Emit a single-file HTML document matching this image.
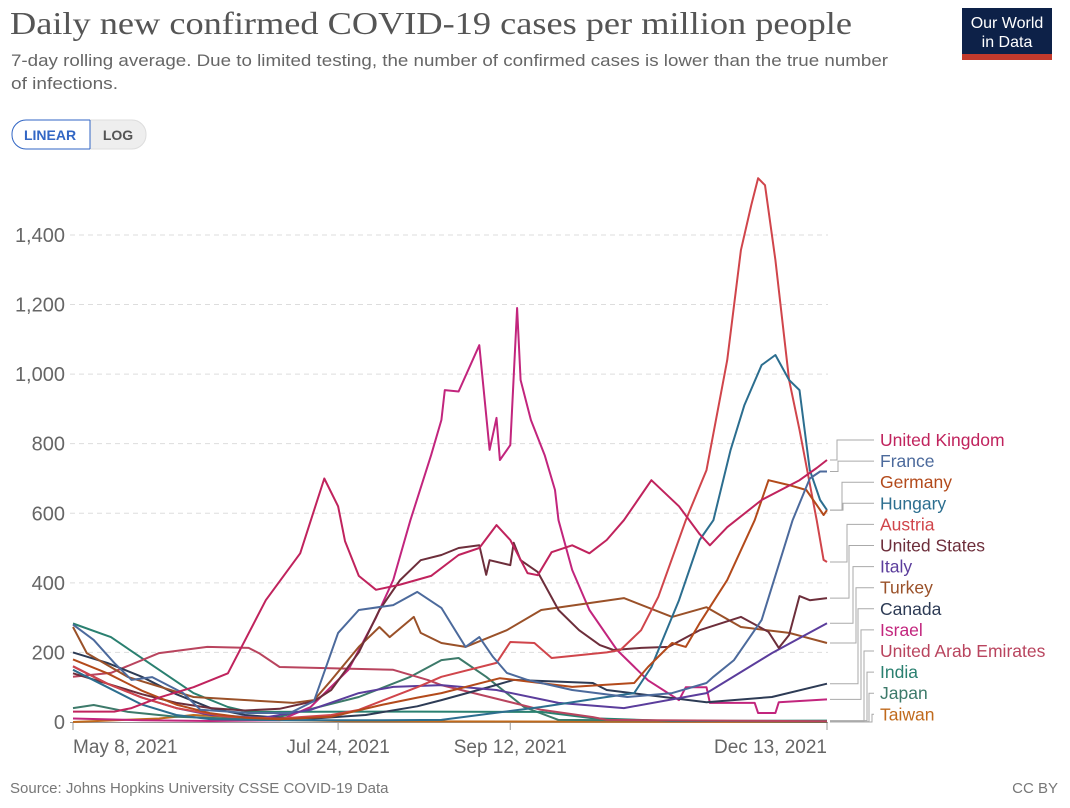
<!DOCTYPE html>
<html><head><meta charset="utf-8">
<style>
body{margin:0;background:#fff;width:1070px;height:803px;overflow:hidden;font-family:"Liberation Sans",sans-serif;}
</style></head>
<body>
<svg id="chart" width="1070" height="803" xmlns="http://www.w3.org/2000/svg" font-family="Liberation Sans, sans-serif">
<text x="10" y="34" font-family="Liberation Serif, serif" font-size="32" fill="#555" textLength="842" lengthAdjust="spacingAndGlyphs">Daily new confirmed COVID-19 cases per million people</text>
<text x="11" y="66" font-size="17" fill="#666" textLength="877" lengthAdjust="spacingAndGlyphs">7-day rolling average. Due to limited testing, the number of confirmed cases is lower than the true number</text>
<text x="11" y="89" font-size="17" fill="#666" textLength="107" lengthAdjust="spacingAndGlyphs">of infections.</text>
<g>
<rect x="962" y="8" width="90" height="46" fill="#0d2148"/>
<rect x="962" y="54" width="90" height="6" fill="#c33a2c"/>
<text x="1007" y="28" font-size="16" fill="#fff" text-anchor="middle">Our World</text>
<text x="1007" y="47" font-size="16" fill="#fff" text-anchor="middle">in Data</text>
</g>
<g>
<rect x="70" y="120" width="76" height="29" rx="14" fill="#eee" stroke="#ddd"/>
<rect x="12" y="120" width="78" height="29" rx="14" fill="#fff" stroke="#3266c4"/>
<rect x="70" y="120.5" width="20" height="28" fill="#fff"/>
<line x1="70" y1="120" x2="90" y2="120" stroke="#3266c4"/>
<line x1="70" y1="149" x2="90" y2="149" stroke="#3266c4"/>
<line x1="90" y1="120" x2="90" y2="149" stroke="#3266c4"/>
<text x="50" y="140" font-size="14" font-weight="bold" fill="#3266c4" text-anchor="middle">LINEAR</text>
<text x="118" y="140" font-size="14" font-weight="bold" fill="#555" text-anchor="middle">LOG</text>
</g>
<g id="grid"></g>
<g id="series"></g>
<g id="legend"></g>
<text x="10" y="793" font-size="15" fill="#777">Source: Johns Hopkins University CSSE COVID-19 Data</text>
<text x="1058" y="793" font-size="15" fill="#777" text-anchor="end">CC BY</text>
</svg>
<script>
const yTicks=[0,200,400,600,800,1000,1200,1400];
const yTickLabels=["0","200","400","600","800","1,000","1,200","1,400"];
const xTickDays=[0,77,127,219];
const xTickLabels=["May 8, 2021","Jul 24, 2021","Sep 12, 2021","Dec 13, 2021"];
const countries=["United Kingdom","France","Germany","Hungary","Austria","United States","Italy","Turkey","Canada","Israel","United Arab Emirates","India","Japan","Taiwan"];
const colors=["#c0235d","#4c6a9c","#b34a1b","#2c6e8f","#d0454b","#6d2e3b","#5b3d9c","#9a5129","#2d3b55","#c2257d","#b9445e","#2a8070","#3d7a6a","#c06a1c"];
const ukDays=[0,12,17,25,35,45,56,66,73,77,79,83,88,95,104,112,118,123,127,132,135,139,145,150,155,160,168,176,182,185,190,200,211,216,219];
const ukVals=[30,30,40,70,100,140,350,485,700,620,520,420,380,395,420,480,500,566,523,428,422,488,508,485,523,580,695,620,540,508,560,638,695,730,753];
const frDays=[0,6,12,17,23,32,37,51,63,70,75,77,83,93,100,107,110,114,118,122,126,132,145,161,174,184,186,192,200,209,214,217,219];
const frVals=[280,236,170,121,129,83,35,26,26,60,200,256,322,336,374,328,280,216,244,187,141,121,92,72,83,112,130,178,293,580,700,720,720];
const deDays=[0,10,20,30,40,50,60,75,90,100,107,124,145,163,167,174,178,182,190,198,202,208,213,216,218,219];
const deVals=[180,140,90,50,25,12,8,15,50,70,83,126,101,112,158,227,216,284,408,580,695,681,667,624,595,609];
const huDays=[0,10,20,30,40,60,90,107,136,155,163,168,176,182,186,191,195,200,204,208,211,214,217,219];
const huVals=[150,100,50,20,8,5,5,6,43,72,83,158,350,523,580,782,911,1026,1055,983,954,724,638,609];
const atDays=[0,10,20,30,45,60,75,83,100,107,123,127,134,139,155,159,165,170,178,184,190,194,197,199,201,204,208,211,216,218,219];
const atVals=[160,110,70,40,15,10,20,35,100,130,170,230,227,184,200,207,264,360,580,724,1040,1356,1486,1563,1543,1328,983,840,580,466,460];
const usDays=[0,10,20,30,40,50,60,70,75,83,89,95,101,107,112,118,120,121,127,128,130,135,141,147,153,157,165,173,182,194,202,205,208,211,214,219];
const usVals=[140,110,80,55,40,33,38,60,92,200,322,408,465,480,500,508,423,465,451,515,465,431,322,264,221,207,213,216,264,302,259,213,250,362,350,356];
const itDays=[0,10,20,30,40,55,69,83,93,107,123,141,160,184,203,219];
const itVals=[160,110,70,40,20,12,35,83,101,106,92,55,40,83,198,284];
const trDays=[0,4,16,35,64,70,75,83,89,92,99,101,107,114,126,136,160,174,184,194,208,219];
const trVals=[273,198,129,72,55,63,120,216,273,244,302,256,227,216,264,322,356,302,330,273,256,227];
const caDays=[0,10,20,30,40,50,60,70,85,100,107,121,128,151,155,184,203,219];
const caVals=[200,170,130,80,40,20,12,10,20,45,63,101,121,112,92,57,72,110];
const ilDays=[0,20,40,60,69,80,88,93,98,104,107,108,112,118,121,123,124,127,129,130,133,137,140,141,145,150,158,167,176,178,184,185,198,199,204,205,219];
const ilVals=[10,5,3,5,43,150,300,408,580,767,868,954,950,1083,782,874,753,796,1190,983,868,767,667,580,437,322,207,120,63,100,100,55,55,26,26,57,65];
const aeDays=[0,11,25,39,51,54,60,93,103,107,136,151,155,219];
const aeVals=[130,141,198,216,213,198,158,150,121,106,35,14,6,2];
const inDays=[0,11,25,35,45,51,100,136,151,174,219];
const inVals=[283,244,150,83,43,29,30,29,11,3,4];
const jpDays=[0,6,16,30,45,60,83,98,107,112,120,131,141,219];
const jpVals=[40,49,29,15,10,15,72,130,178,184,130,43,6,1];
const twDays=[0,25,35,45,60,80,219];
const twVals=[0,10,20,15,6,2,0];
const allDays=[ukDays,frDays,deDays,huDays,atDays,usDays,itDays,trDays,caDays,ilDays,aeDays,inDays,jpDays,twDays];
const allVals=[ukVals,frVals,deVals,huVals,atVals,usVals,itVals,trVals,caVals,ilVals,aeVals,inVals,jpVals,twVals];

const NS="http://www.w3.org/2000/svg";
const X0=73,X1=827,DMAX=219,Y0=722,PXV=0.3479;
function xs(d){return X0+(X1-X0)*d/DMAX;}
function ys(v){return Y0-v*PXV;}
function mk(tag,attrs,parent){const e=document.createElementNS(NS,tag);for(const k in attrs)e.setAttribute(k,attrs[k]);parent.appendChild(e);return e;}
const grid=document.getElementById('grid');
yTicks.forEach((t,i)=>{
  if(t>0){const l=mk('line',{x1:70,x2:828,y1:ys(t),y2:ys(t),stroke:'#ddd','stroke-dasharray':'5,4'},grid);
  
  }
  const tx=mk('text',{x:65,y:ys(t)+7,'font-size':20,fill:'#666','text-anchor':'end'},grid);
  tx.textContent=yTickLabels[i];
  
  
});
const ax=mk('line',{x1:70,x2:828,y1:Y0+0.5,y2:Y0+0.5,stroke:'#999'},grid);


xTickDays.forEach((d,i)=>{
  const tk=mk('line',{x1:xs(d),x2:xs(d),y1:Y0,y2:Y0+8,stroke:'#999'},grid);
  
  
  const anchor=i==0?'start':(i==xTickDays.length-1?'end':'middle');
  const tx=mk('text',{x:xs(d),y:753,'font-size':19,fill:'#666','text-anchor':anchor},grid);
  tx.textContent=xTickLabels[i];
  
  
});
const sg=document.getElementById('series');
for(let s=countries.length-1;s>=0;s--){
  const pts=allDays[s].map((d,i)=>xs(d).toFixed(1)+','+ys(allVals[s][i]).toFixed(1)).join(' ');
  const pl=mk('polyline',{points:pts,fill:'none',stroke:colors[s],'stroke-width':2,'stroke-linejoin':'round'},sg);
  
  
}
const lg=document.getElementById('legend');
const elbowX=[837,838,842,843,847,849,853,856,858,861,864,867,869,872];
countries.forEach((c,i)=>{
  const ly=440+i*21.1;
  const vals=allVals[i];
  const ey=ys(vals[vals.length-1]);
  const p=mk('polyline',{points:`830,${ey} ${elbowX[i]},${ey} ${elbowX[i]},${ly} 874,${ly}`,fill:'none',stroke:'#aaa','stroke-width':1},lg);
  
  
  const t=mk('text',{x:880,y:ly+6,'font-size':17.5,fill:colors[i]},lg);
  t.textContent=c;
  
  
});
</script>
</body></html>
